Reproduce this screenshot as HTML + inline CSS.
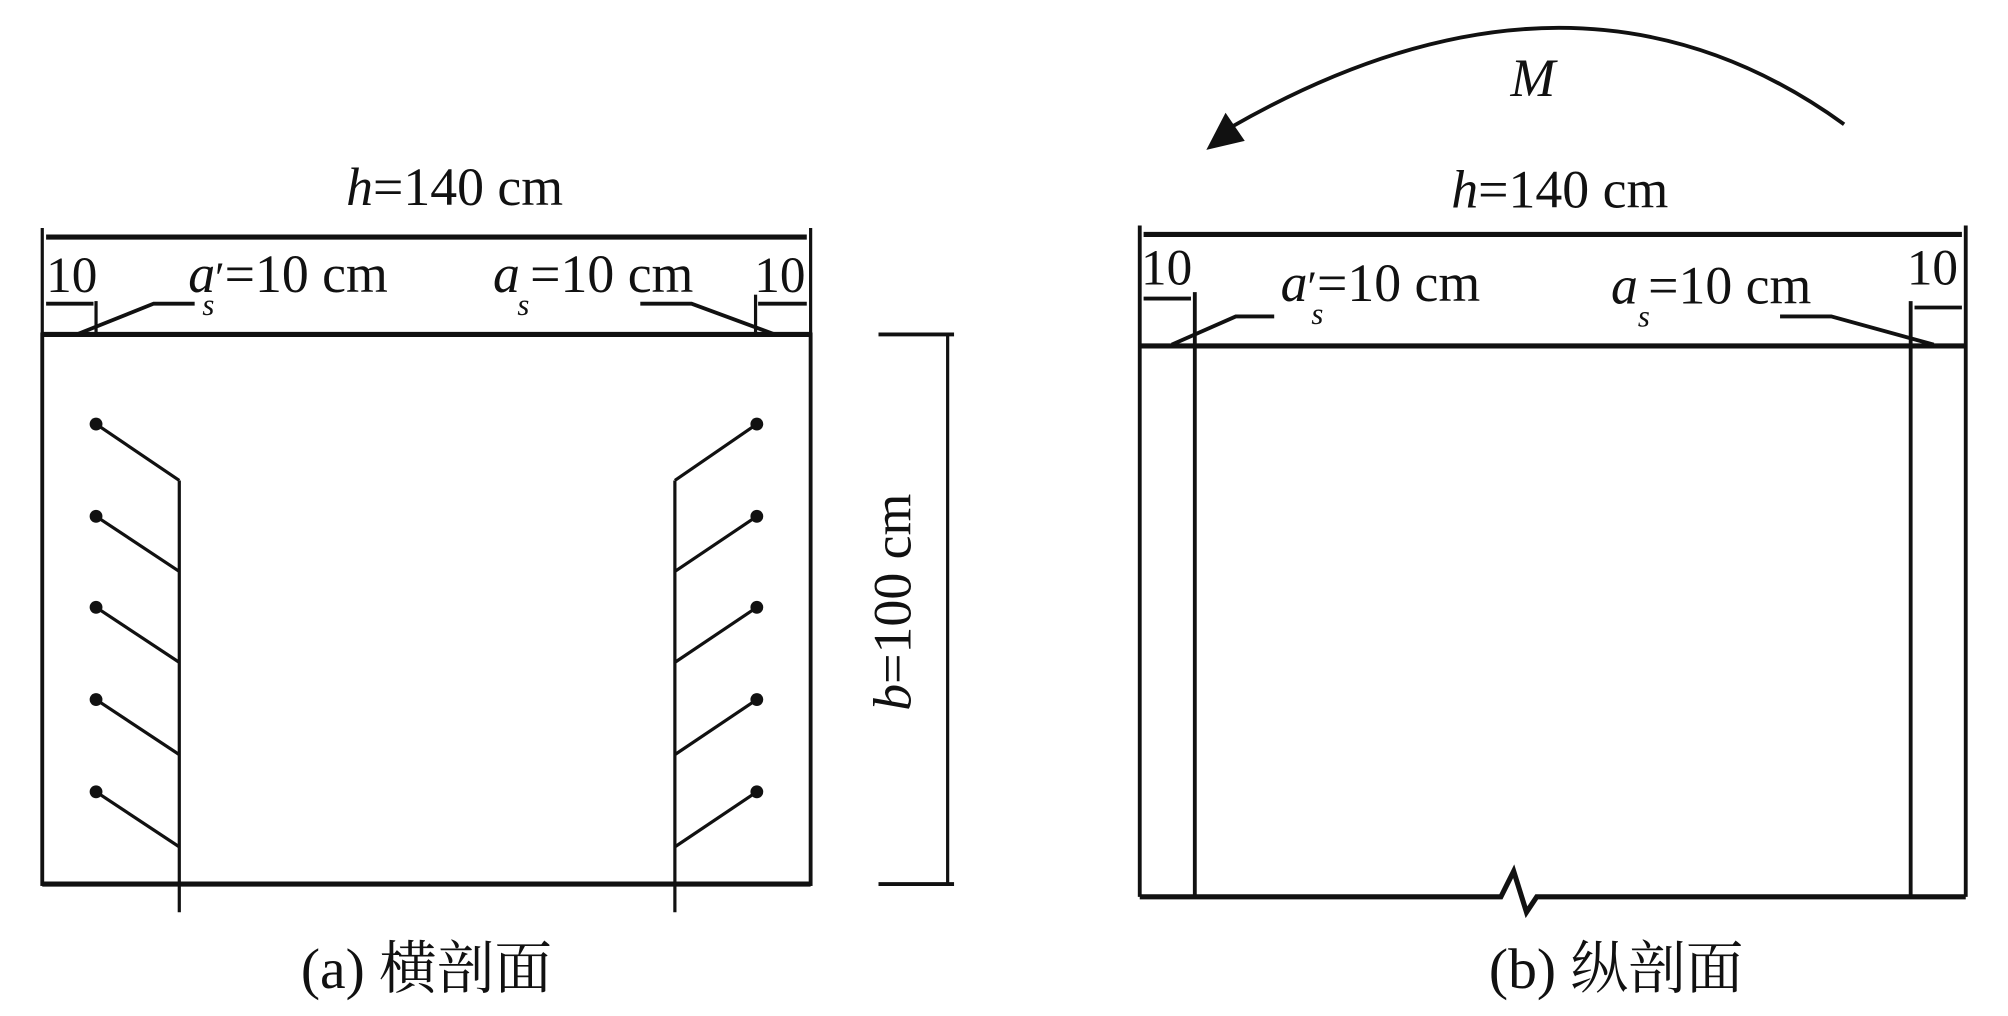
<!DOCTYPE html>
<html><head><meta charset="utf-8"><style>html,body{margin:0;padding:0;background:#fff}svg{display:block}text{font-family:"Liberation Serif","Noto Serif CJK SC",serif;fill:#111}</style></head>
<body>
<svg width="2008" height="1016" viewBox="0 0 1568 793" preserveAspectRatio="none" xmlns="http://www.w3.org/2000/svg">
<g stroke="#111" fill="none" stroke-width="2.5">
<rect x="33" y="261" width="600" height="429" stroke-width="3"/>
<line x1="33" y1="261" x2="633" y2="261" stroke-width="4"/>
<line x1="33" y1="690" x2="633" y2="690" stroke-width="4"/>
<line x1="33" y1="178" x2="33" y2="261"/>
<line x1="633" y1="178" x2="633" y2="261"/>
<line x1="36" y1="185" x2="630" y2="185" stroke-width="4"/>
<line x1="75" y1="235" x2="75" y2="261"/>
<line x1="36" y1="237" x2="73" y2="237" stroke-width="3"/>
<polyline points="60,261 120,237 152,237" stroke-width="3"/>
<line x1="590" y1="230" x2="590" y2="261"/>
<line x1="592" y1="237" x2="630" y2="237" stroke-width="3"/>
<polyline points="605,261 540,237 500,237" stroke-width="3"/>
<line x1="140" y1="375" x2="140" y2="712"/>
<line x1="527" y1="375" x2="527" y2="712"/>
<polyline points="75,331 140,375"/>
<polyline points="75,403 140,446"/>
<polyline points="75,474 140,517"/>
<polyline points="75,546 140,589"/>
<polyline points="75,618 140,661"/>
<polyline points="591,331 527,375"/>
<polyline points="591,403 527,446"/>
<polyline points="591,474 527,517"/>
<polyline points="591,546 527,589"/>
<polyline points="591,618 527,661"/>
<line x1="686" y1="261" x2="745" y2="261" stroke-width="3"/>
<line x1="686" y1="690" x2="745" y2="690" stroke-width="3"/>
<line x1="740" y1="261" x2="740" y2="690"/>
<line x1="890" y1="176" x2="890" y2="700" stroke-width="3"/>
<line x1="1535" y1="176" x2="1535" y2="700" stroke-width="3"/>
<line x1="893" y1="183" x2="1532" y2="183" stroke-width="4"/>
<line x1="890" y1="270" x2="1535" y2="270" stroke-width="4"/>
<line x1="933" y1="228" x2="933" y2="700" stroke-width="3"/>
<line x1="1492" y1="235" x2="1492" y2="700" stroke-width="3"/>
<line x1="893" y1="233" x2="930" y2="233" stroke-width="3"/>
<line x1="1495" y1="240" x2="1532" y2="240" stroke-width="3"/>
<polyline points="915,269 965,247 995,247" stroke-width="3"/>
<polyline points="1510,269 1430,247 1390,247" stroke-width="3"/>
<polyline points="890,700 1172,700 1182,680 1192,712 1200,700 1535,700" stroke-width="4"/>
<path d="M1440,97 Q1230,-55 960,100" stroke-width="3"/>
</g>
<g fill="#111">
<circle cx="75" cy="331" r="5"/><circle cx="75" cy="403" r="5"/><circle cx="75" cy="474" r="5"/><circle cx="75" cy="546" r="5"/><circle cx="75" cy="618" r="5"/>
<circle cx="591" cy="331" r="5"/><circle cx="591" cy="403" r="5"/><circle cx="591" cy="474" r="5"/><circle cx="591" cy="546" r="5"/><circle cx="591" cy="618" r="5"/>
<polygon points="942,117 957,88 972,110"/>
</g>
<g font-size="42">
<text x="355" y="160" text-anchor="middle"><tspan font-style="italic">h</tspan>=140 cm</text>
<text x="36" y="228" font-size="40">10</text>
<text x="589" y="228" font-size="40">10</text>
<text x="147" y="228"><tspan font-style="italic">a</tspan><tspan font-size="34">′</tspan>=10 cm</text>
<text x="158" y="246" font-size="24" font-style="italic">s</text>
<text x="385" y="228"><tspan font-style="italic">a</tspan><tspan dx="8">=10 cm</tspan></text>
<text x="404" y="246" font-size="24" font-style="italic">s</text>
<text transform="translate(711,470) rotate(-90)" text-anchor="middle"><tspan font-style="italic">b</tspan>=100 cm</text>
<text x="333" y="771" text-anchor="middle" font-size="45">(a) 横剖面</text>
<text x="1218" y="162" text-anchor="middle"><tspan font-style="italic">h</tspan>=140 cm</text>
<text x="891" y="222" font-size="40">10</text>
<text x="1489" y="222" font-size="40">10</text>
<text x="1000" y="235"><tspan font-style="italic">a</tspan><tspan font-size="34">′</tspan>=10 cm</text>
<text x="1024" y="253" font-size="24" font-style="italic">s</text>
<text x="1258" y="237"><tspan font-style="italic">a</tspan><tspan dx="8">=10 cm</tspan></text>
<text x="1279" y="255" font-size="24" font-style="italic">s</text>
<text x="1197" y="75" text-anchor="middle" font-style="italic" font-size="42">M</text>
<text x="1262" y="771" text-anchor="middle" font-size="45">(b) 纵剖面</text>
</g>
</svg>
</body></html>
